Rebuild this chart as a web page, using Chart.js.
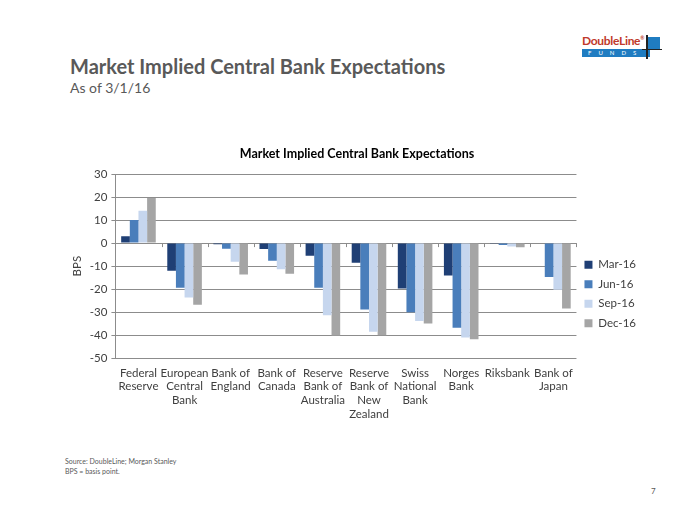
<!DOCTYPE html>
<html lang="en">
<head>
    <meta charset="UTF-8">
    <title>Market Implied Central Bank Expectations</title>
    <script src="https://cdn.jsdelivr.net/npm/chart.js"></script>
    <style>
        body {
            margin: 0;
            width: 700px;
            height: 525px;
            background: #fff;
            font-family: Lato, "Open Sans", sans-serif;
            position: relative;
            overflow: hidden;
        }
        .title {
            position: absolute;
            left: 70px;
            top: 54px;
            font-size: 20px;
            font-weight: bold;
            color: #595959;
        }
        .subtitle {
            position: absolute;
            left: 70px;
            top: 79px;
            font-size: 14px;
            color: #595959;
        }
        .logo {
            position: absolute;
            left: 582px;
            top: 33px;
            width: 80px;
        }
        .logo .name {
            font-size: 12px;
            font-weight: bold;
            color: #c0392b;
            letter-spacing: -0.3px;
            height: 16px;
        }
        .logo .funds {
            background: #1f7cc1;
            color: #fff;
            font-size: 6px;
            letter-spacing: 7px;
            width: 62px;
            height: 8px;
            line-height: 8px;
            padding-left: 6px;
        }
        .logo .sq {
            position: absolute;
            left: 66px;
            top: 4px;
            width: 12px;
            height: 12px;
            background: #1f7cc1;
        }
        .logo .vl {
            position: absolute;
            left: 64px;
            top: 2px;
            width: 2px;
            height: 24px;
            background: #222;
        }
        .logo .hl {
            position: absolute;
            left: 60px;
            top: 16px;
            width: 20px;
            height: 1px;
            background: #222;
        }
        .chart-box {
            position: absolute;
            left: 60px;
            top: 140px;
            width: 610px;
            height: 290px;
        }
        .note {
            position: absolute;
            left: 65px;
            top: 456px;
            font-size: 7px;
            line-height: 10px;
            color: #595959;
        }
        .page {
            position: absolute;
            left: 651px;
            top: 486px;
            font-size: 8px;
            color: #595959;
        }
    </style>
</head>
<body>
    <div class="title">Market Implied Central Bank Expectations</div>
    <div class="subtitle">As of 3/1/16</div>
    <div class="logo">
        <div class="name">DoubleLine<sup style="font-size:5px">®</sup></div>
        <div class="funds">FUNDS</div>
        <div class="sq"></div>
        <div class="vl"></div>
        <div class="hl"></div>
    </div>
    <div class="chart-box"><canvas id="myChart" width="610" height="290"></canvas></div>
    <div class="note">Source: DoubleLine; Morgan Stanley<br>BPS = basis point.</div>
    <div class="page">7</div>

    <script>
        // Categories (multi-line labels)
        var banks = [
            ["Federal", "Reserve"],
            ["European", "Central", "Bank"],
            ["Bank of", "England"],
            ["Bank of", "Canada"],
            ["Reserve", "Bank of", "Australia"],
            ["Reserve", "Bank of", "New", "Zealand"],
            ["Swiss", "National", "Bank"],
            ["Norges", "Bank"],
            ["Riksbank"],
            ["Bank of", "Japan"]
        ];

        // Expected change in BPS per meeting horizon
        var mar16 = [3, -12, -0.5, -2.6, -5.5, -8.5, -19.7, -14.1, -0.3, -0.2];
        var jun16 = [10, -19.4, -2.4, -7.7, -19.4, -28.8, -30, -36.7, -0.8, -14.7];
        var sep16 = [14, -23.6, -8.1, -11.4, -31.3, -38.5, -33.8, -41, -1.5, -20.3];
        var dec16 = [19.6, -26.8, -13.6, -13.3, -40.1, -40, -34.9, -41.8, -1.8, -28.4];

        var yTicks = [30, 20, 10, 0, -10, -20, -30, -40, -50];

        var ctx = document.getElementById("myChart").getContext("2d");
        var textColor = "#404040";
        var fontFam = "Lato";

        // small tick marks on the zero line between categories, like the original
        var zeroTicks = {
            id: "zeroTicks",
            afterDatasetsDraw: function(chart) {
                var x = chart.scales.x, y = chart.scales.y;
                var y0 = y.getPixelForValue(0);
                var c = chart.ctx;
                c.save();
                c.strokeStyle = "#8c8c8c";
                c.lineWidth = 1;
                var step = (x.right - x.left) / banks.length;
                for (var i = 0; i <= banks.length; i++) {
                    var px = Math.round(x.left + i * step) + 0.5;
                    c.beginPath();
                    c.moveTo(px, y0);
                    c.lineTo(px, y0 + 4);
                    c.stroke();
                }
                c.restore();
            }
        };

        var myChart = new Chart(ctx, {
            type: "bar",
            data: {
                labels: banks,
                datasets: [
                    { label: "Mar-16", data: mar16, backgroundColor: "#1f3f75" },
                    { label: "Jun-16", data: jun16, backgroundColor: "#4a7ebb" },
                    { label: "Sep-16", data: sep16, backgroundColor: "#c6d6ee" },
                    { label: "Dec-16", data: dec16, backgroundColor: "#a5a5a5" }
                ]
            },
            plugins: [zeroTicks],
            options: {
                responsive: false,
                animation: false,
                layout: { padding: { left: 8, right: 24, top: 0, bottom: 1 } },
                datasets: {
                    bar: { categoryPercentage: 0.75, barPercentage: 1.0 }
                },
                plugins: {
                    title: {
                        display: true,
                        text: "Market Implied Central Bank Expectations",
                        color: "#000",
                        font: { family: fontFam, size: 12.5, weight: "bold" },
                        padding: { top: 6, bottom: 13 }
                    },
                    legend: {
                        position: "right",
                        title: {
                            display: true,
                            text: " ",
                            font: { family: fontFam, size: 10 },
                            padding: { top: 7, bottom: 0 }
                        },
                        labels: {
                            boxWidth: 8,
                            boxHeight: 8,
                            color: textColor,
                            font: { family: fontFam, size: 11.5 },
                            padding: 8
                        }
                    },
                    tooltip: { enabled: false }
                },
                scales: {
                    x: {
                        grid: { display: false, drawTicks: false },
                        border: { display: false },
                        ticks: {
                            color: textColor,
                            font: { family: fontFam, size: 11.5, lineHeight: 1.19 },
                            padding: 8,
                            maxRotation: 0,
                            autoSkip: false
                        }
                    },
                    y: {
                        min: -50,
                        max: 30,
                        afterBuildTicks: function(axis) {
                            axis.ticks = yTicks.map(function(v) { return { value: v }; });
                        },
                        grid: {
                            color: "#8c8c8c",
                            lineWidth: 1,
                            drawTicks: true,
                            tickLength: 4
                        },
                        border: { display: true, color: "#8c8c8c" },
                        ticks: {
                            color: textColor,
                            font: { family: fontFam, size: 11.5 },
                            padding: 4
                        },
                        title: {
                            display: true,
                            text: "BPS",
                            color: textColor,
                            font: { family: fontFam, size: 11.5 },
                            padding: 2
                        }
                    }
                }
            }
        });
    </script>
</body>
</html>
